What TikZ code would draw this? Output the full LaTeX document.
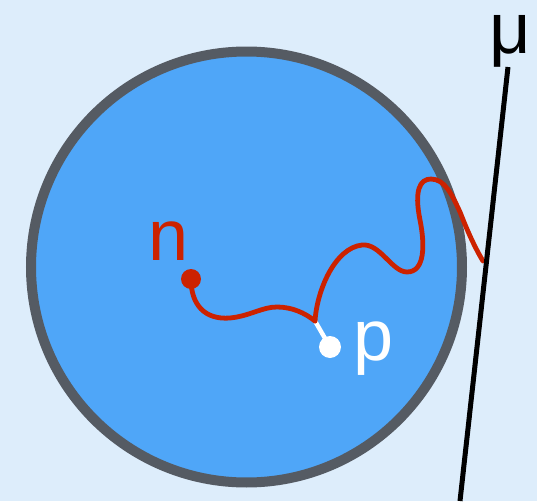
\documentclass[tikz,border=0pt]{standalone}
\usepackage{fontspec}
\setmainfont{Liberation Sans}
\usepackage{tikz}
\usetikzlibrary{positioning}
\definecolor{paper}{HTML}{DDEDFB}
\definecolor{ballfill}{HTML}{4FA6F8}
\definecolor{rim}{HTML}{555B63}
\definecolor{path}{HTML}{CC2200}

\begin{document}
\begin{tikzpicture}[x=0.5pt, y=-0.5pt,
  label/.style={inner sep=0pt, anchor=base, font=\fontsize{36}{40}\selectfont},
  reddot/.style={circle, fill=path, minimum size=10pt, inner sep=0pt},
  whitedot/.style={circle, fill=white, minimum size=11pt, inner sep=0pt},
  wiggle/.style={draw=path, line width=2.4pt, line cap=round}]
  % Hintergrund
  \fill[paper] (0,0) rectangle (537,501);
  % Kugel
  \draw[rim, line width=5pt, fill=ballfill] (246.5,267) circle[radius=107.75pt];
  % Punkte und Marken
  \node[reddot] (n) at (191,279) {};
  \node[whitedot] (p) at (330,347) {};
  \coordinate (fork) at (315,321);
  \coordinate (exit) at (483,261);
  \node[label, text=path] (nlabel) at (169,260) {n};
  \node[label, text=white] (plabel) at (374,360) {p};
  \node[label, text=black] (mulabel) at (510,53) {μ};
  \coordinate (lineTop) at (508,67);
  \coordinate (lineBot) at (460,501);
  % Weg
  \draw[white, line width=2.2pt] (fork) -- (p.center);
  \draw[wiggle] (n.center) .. controls (191,305) and (205,320) .. (230,318)
    .. controls (250,316) and (262,307) .. (277,307)
    .. controls (292,307) and (305,313) .. (fork);
  \draw[wiggle] (fork) .. controls (317,290) and (335,248) .. (362,245)
    .. controls (380,243) and (392,272) .. (407,272)
    .. controls (425,272) and (425,245) .. (420,220)
    .. controls (414,190) and (420,179) .. (431,179)
    .. controls (445,179) and (452,195) .. (460,212)
    .. controls (467,230) and (475,248) .. (exit);
  % Gerade
  \draw[black, line width=2.5pt] (lineTop) -- (lineBot);
\end{tikzpicture}
\end{document}
